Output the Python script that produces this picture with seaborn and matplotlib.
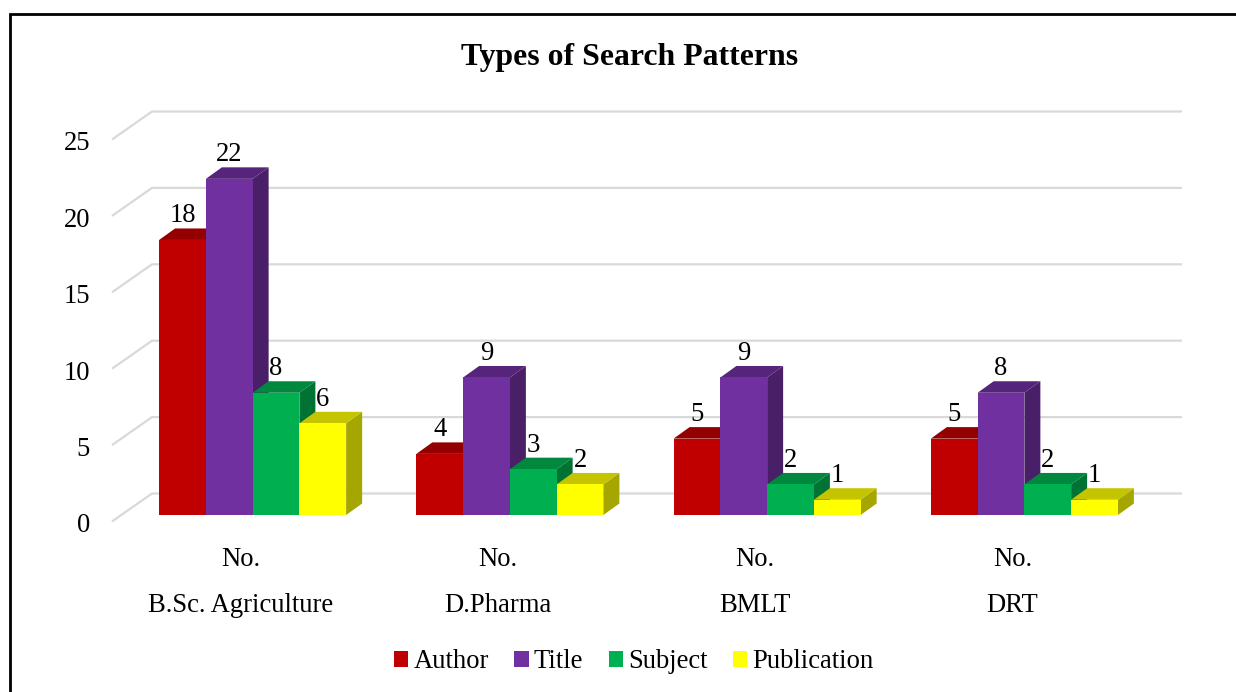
import pandas as pd
import matplotlib
matplotlib.use('Agg')
import matplotlib.pyplot as plt
from matplotlib.lines import Line2D
from matplotlib.patches import Polygon
from matplotlib.transforms import Affine2D
import seaborn as sns

# values
programmes = ['B.Sc. Agriculture', 'D.Pharma', 'BMLT', 'DRT']
patterns = ['Author', 'Title', 'Subject', 'Publication']
author = [18, 4, 5, 5]
title = [22, 9, 9, 8]
subject = [8, 3, 2, 2]
publication = [6, 2, 1, 1]
colors = ['#C00000', '#7030A0', '#00B050', '#FFFF00']
y_ticks = [0, 5, 10, 15, 20, 25]

W, H = 1236, 692
sns.set_theme(style='white')
plt.rcParams['font.family'] = ['Liberation Serif', 'DejaVu Serif']
plt.rcParams['text.color'] = 'black'
FS = 19.2

rows = []
for name, vals in zip(patterns, [author, title, subject, publication]):
    for prog, v in zip(programmes, vals):
        rows.append({'programme': prog, 'pattern': name, 'count': v})
df = pd.DataFrame(rows)

fig = plt.figure(figsize=(W / 100, H / 100), dpi=100, facecolor='white')
ax = fig.add_axes([124 / W, (H - 515) / H, 1029 / W, 382 / H])
ax.patch.set_alpha(0)

sns.barplot(data=df, x='programme', y='count', hue='pattern', order=programmes,
            hue_order=patterns, palette=colors, saturation=1, width=0.727, gap=0,
            errorbar=None, linewidth=0, ax=ax)
ax.set_xlim(-0.5, 3.5)
ax.set_ylim(0, 25)
ax.set_xlabel('')
ax.set_ylabel('')
sns.despine(ax=ax, left=True, bottom=True)

# data units per pixel
px = 4 / 1029
py = 25 / 382


def shade(col, k):
    r, g, b = matplotlib.colors.to_rgb(col)
    return (r * k, g * k, b * k)


# floor and walls, the 3D look of the gridlines
for v in y_ticks:
    ax.plot([-0.5 - 12 * px, -0.5 + 28 * px, 3.5 + 29 * px],
            [v - 6.5 * py, v + 21.5 * py, v + 21.5 * py],
            color='#D9D9D9', lw=1.6, clip_on=False, zorder=1, solid_capstyle='butt')

# side and top faces on each bar
dx, dy = 16 * px, 11.5 * py
for i, cont in enumerate(ax.containers):
    col = colors[i]
    for bar in cont:
        x0 = bar.get_x()
        x1 = x0 + bar.get_width()
        h = bar.get_height()
        bar.set_zorder(3 + i + 0.5)
        ax.add_patch(Polygon([(x1, 0), (x1 + dx, dy), (x1 + dx, h + dy), (x1, h)],
                             closed=True, fc=shade(col, 0.65), ec='none', zorder=3 + i, clip_on=False))
        ax.add_patch(Polygon([(x0, h), (x0 + dx, h + dy), (x1 + dx, h + dy), (x1, h)],
                             closed=True, fc=shade(col, 0.77), ec='none', zorder=3 + i, clip_on=False))
        ax.annotate(f'{h:.0f}', (x0 + bar.get_width() / 2, h), xytext=(0, 24 * 0.72),
                    textcoords='offset points', ha='center', va='center',
                    fontsize=FS, color='black', zorder=10, annotation_clip=False)

ax.set_yticks(y_ticks, [str(v) for v in y_ticks])
ax.set_xticks(range(len(programmes)), [f'No.\n{p}' for p in programmes])
ax.tick_params(axis='y', length=0, pad=24.5, labelsize=FS, labelcolor='black')
ax.tick_params(axis='x', length=0, pad=22.7, labelsize=FS, labelcolor='black')
for lab in ax.get_yticklabels():
    lab.set_transform(lab.get_transform() + Affine2D().translate(0, -8))
for lab in ax.get_xticklabels():
    lab.set_linespacing(2.13)
    lab.set_transform(lab.get_transform() + Affine2D().translate(-12, 0))

sns.move_legend(ax, 'center', bbox_to_anchor=(634 / W, 1 - 662 / H),
                bbox_transform=fig.transFigure, ncol=4, title=None, frameon=False,
                fontsize=FS, labelcolor='black', handlelength=0.53, handleheight=0.53,
                handletextpad=0.2, columnspacing=0.95, borderpad=0, borderaxespad=0)

fig.text(630 / W, 1 - 57.5 / H, 'Types of Search Patterns', ha='center', va='center',
         fontsize=22.9, fontweight='bold', color='black')

# outer frame, only top and left are inside the picture
fig.add_artist(Line2D([9.5 / W, 9.5 / W, 1], [0, 1 - 14 / H, 1 - 14 / H],
                      color='black', lw=2.0, transform=fig.transFigure, solid_joinstyle='miter'))

fig.savefig('out.png', dpi=100)
